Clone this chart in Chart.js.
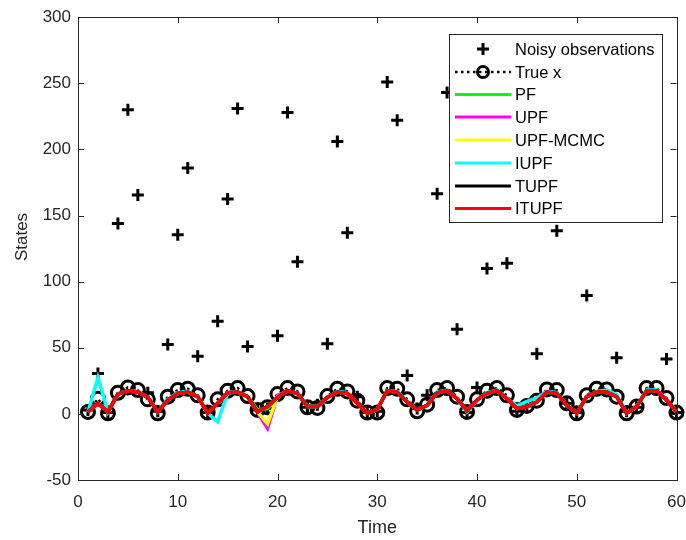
<!DOCTYPE html>
<html><head><meta charset="utf-8">
<script src="https://cdn.jsdelivr.net/npm/chart.js@4.4.0/dist/chart.umd.min.js"></script>
<style>html,body{margin:0;padding:0;background:#fff;}#wrap{width:686px;height:540px;}</style>
</head><body><div id="wrap"><canvas id="c" width="686" height="540"></canvas></div>
<script>
const time = [1,2,3,4,5,6,7,8,9,10,11,12,13,14,15,16,17,18,19,20,21,22,23,24,25,26,27,28,29,30,31,32,33,34,35,36,37,38,39,40,41,42,43,44,45,46,47,48,49,50,51,52,53,54,55,56,57,58,59,60];
const noisyObs = [3,30.5,1,144,230,165.5,16,2,52.5,135.5,186,43.5,1,70,162.5,231,51,3,4,59,228,115,5,7,53,206,137,13,1,2,251,222,29,4,14,166.5,243,64,1,20,110,200,114,2,6,45.5,180,138.5,8,1,89.5,195,185,42.5,2,5,210,276,41.5,1];
const trueX = [1.5,11.5,0.5,16,20,18,11,0.5,13,18,19,14,1,11,17.5,19.5,13.5,3,5,15,19.5,17,5,4.5,13.5,19,17,10,1,1,19.5,19,11,2,7,18,19.5,13,1.5,11,17.5,19.5,14,3,6,10,18.5,18,8,0.5,14,19,18.5,13,0.5,5.5,19.5,19.5,12,1];
const pf = [1.5,8,1.5,15,17.5,16.5,12.5,1.5,10.5,15.5,16.5,13,0.5,8,16,16.5,13,3,4,12.5,17.5,15.5,5.5,5.5,12.5,16.5,15.5,8,0.5,3.5,17.5,16.5,9,3,6.5,16,17.5,11.5,2.5,10.5,15.5,17.5,11.5,4,5.5,9,16.5,15.5,6.5,1,13,16.5,16.5,13,0.5,5.5,17.5,17.5,10.5,1.5];
const upf = [1.5,8,1.5,15,17,16.5,12.5,1.5,10.5,15.5,16.5,13,0.5,8,16,16.5,13,1,-11,14,17.5,15.5,5.5,5.5,12.5,16.5,15.5,8,0.5,3.5,17.5,16.5,9,3,6.5,16,17.5,11.5,2.5,10.5,15.5,17.5,11.5,4,5.5,9,16.5,15.5,6.5,0.5,13,16.5,16.5,13,0.5,5.5,17.5,17.5,10.5,1.5];
const upfMcmc = [1.5,8,1.5,15,17.5,16.5,12.5,1.5,10.5,15.5,16.5,13,0.5,8,16,16.5,13,1.5,-7.5,13,17.5,15.5,5.5,5.5,12.5,16.5,15.5,8,0.5,3.5,17.5,16.5,9,3,6.5,16,17.5,11.5,2.5,10.5,15.5,17.5,11.5,4,5.5,9,16.5,15.5,6.5,0.5,13,16.5,16.5,13,0.5,5.5,17.5,17.5,10.5,1.5];
const iupf = [1.5,27.5,1.5,15.5,17.5,17,12.5,1.5,11,16,17,13,0.5,-6,15.5,17,13,1.5,5.5,12.5,17.5,16,5.5,5.5,12.5,17,16,8,0.5,3.5,17.5,17,9,3,6.5,16.5,18,11.5,1.5,10.5,16,18,11.5,6,9.5,12,17,16,6.5,0.5,13,17,18,14.5,0.5,5.5,18,18,10.5,1.5];
const tupf = [1.5,8,1.5,15,17.5,16.5,12.5,1.5,10.5,15.5,16.5,13,0.5,8,16,16.5,13,1.5,5.5,12.5,17.5,15.5,5.5,5.5,12.5,16.5,15.5,8,0.5,3.5,17.5,16.5,9,3,6.5,16,17.5,11.5,2.5,10.5,15.5,17.5,11.5,4,5.5,9,16.5,15.5,6.5,0.5,13,16.5,16.5,13,0.5,5.5,17.5,17.5,10.5,1.5];
const itupf = [1.5,8,1.5,15,17.5,16.5,12.5,1.5,10.5,15.5,16.5,13,0.5,8,16,16.5,13,1.5,5.5,12.5,17.5,15.5,5.5,5.5,12.5,16.5,15.5,8,0.5,3.5,17.5,16.5,9,3,6.5,16,17.5,11.5,2.5,10.5,15.5,17.5,11.5,4,5.5,9,16.5,15.5,6.5,0.5,13,16.5,16.5,13,0.5,5.5,17.5,17.5,10.5,1.5];
const xTicks = [0,10,20,30,40,50,60];
const yTicks = [-50,0,50,100,150,200,250,300];
const seriesNames = ['Noisy observations','True x','PF','UPF','UPF-MCMC','IUPF','TUPF','ITUPF'];
const seriesColors = ['#000000','#000000','#00ff00','#ff00ff','#ffff00','#00ffff','#000000','#ff0000'];

const FONT = '"Liberation Sans", Arial, Helvetica, sans-serif';
const AX = '#262626';
const pts = arr => arr.map((v, i) => ({x: time[i], y: v}));

const lineSets = [pf, upf, upfMcmc, iupf, tupf, itupf].map((arr, k) => ({
  label: seriesNames[k + 2], data: pts(arr), borderColor: seriesColors[k + 2],
  borderWidth: 3.5, pointRadius: 0, fill: false, tension: 0, order: 5 - k
}));

const datasets = [
  {label: seriesNames[0], data: pts(noisyObs), showLine: false, pointStyle: 'cross',
   pointRadius: 6, pointBorderWidth: 3, borderColor: '#000', pointBorderColor: '#000', order: 7, clip: false},
  {label: seriesNames[1], data: pts(trueX), borderColor: '#000', borderWidth: 2.5, borderDash: [2.5, 3.5],
   pointStyle: 'circle', pointRadius: 6.5, pointBorderWidth: 3, pointBorderColor: '#000',
   pointBackgroundColor: 'rgba(0,0,0,0)', fill: false, order: 6, clip: false}
].concat(lineSets);

const framePlugin = {
  id: 'frame',
  afterDatasetsDraw(chart) {
    const {ctx, chartArea: a, scales: {x, y}} = chart;
    ctx.save();
    ctx.strokeStyle = AX; ctx.lineWidth = 1;
    ctx.beginPath();
    xTicks.forEach(v => {
      const px = Math.round(x.getPixelForValue(v)) + 0.5;
      ctx.moveTo(px, a.bottom); ctx.lineTo(px, a.bottom - 6);
      ctx.moveTo(px, a.top); ctx.lineTo(px, a.top + 6);
    });
    yTicks.forEach(v => {
      const py = Math.round(y.getPixelForValue(v)) + 0.5;
      ctx.moveTo(a.left, py); ctx.lineTo(a.left + 6, py);
      ctx.moveTo(a.right, py); ctx.lineTo(a.right - 6, py);
    });
    ctx.stroke();
    ctx.strokeRect(Math.round(a.left) + 0.5, Math.round(a.top) + 0.5, Math.round(a.right - a.left), Math.round(a.bottom - a.top));
    ctx.fillStyle = AX;
    ctx.font = '17px ' + FONT;
    ctx.translate(22, 237);
    ctx.rotate(-Math.PI / 2);
    ctx.textAlign = 'center'; ctx.textBaseline = 'middle';
    ctx.fillText('States', 0, 0);
    ctx.restore();
  },
  afterDraw(chart) {
    const {ctx} = chart;
    ctx.save();
    const bx = 449, by = 34, bw = 213, bh = 188;
    ctx.fillStyle = '#fff';
    ctx.fillRect(bx, by, bw, bh);
    ctx.strokeStyle = AX; ctx.lineWidth = 1;
    ctx.strokeRect(bx + 0.5, by + 0.5, bw, bh);
    const rowY = [49, 72, 94.5, 117, 140, 163, 186, 208.5];
    const x0 = 455, x1 = 511, xm = 483, tx = 515;
    ctx.font = '16.5px ' + FONT;
    ctx.textBaseline = 'middle'; ctx.textAlign = 'left';
    seriesNames.forEach((name, i) => {
      const yy = rowY[i];
      ctx.strokeStyle = seriesColors[i];
      if (i === 0) {
        ctx.lineWidth = 3;
        ctx.beginPath();
        ctx.moveTo(xm - 6, yy); ctx.lineTo(xm + 6, yy);
        ctx.moveTo(xm, yy - 6); ctx.lineTo(xm, yy + 6);
        ctx.stroke();
      } else if (i === 1) {
        ctx.lineWidth = 2.5;
        ctx.setLineDash([2.5, 3.5]);
        ctx.beginPath(); ctx.moveTo(x0, yy); ctx.lineTo(x1, yy); ctx.stroke();
        ctx.setLineDash([]);
        ctx.lineWidth = 3;
        ctx.beginPath(); ctx.arc(xm, yy, 5.5, 0, Math.PI * 2); ctx.stroke();
      } else {
        ctx.lineWidth = 3;
        ctx.beginPath(); ctx.moveTo(x0, yy); ctx.lineTo(x1, yy); ctx.stroke();
      }
      ctx.fillStyle = '#000';
      ctx.fillText(name, tx, yy + 1);
    });
    ctx.restore();
  }
};

new Chart(document.getElementById('c'), {
  type: 'line',
  data: {datasets},
  options: {
    responsive: false, animation: false, devicePixelRatio: 1,
    layout: {padding: {top: 16, right: 6, left: 0, bottom: 0}},
    plugins: {legend: {display: false}, tooltip: {enabled: false}},
    scales: {
      x: {type: 'linear', min: 0, max: 60,
        afterBuildTicks: s => { s.ticks = xTicks.map(v => ({value: v})); },
        afterFit: s => { s.height = 60; s.paddingLeft = 0; s.paddingRight = 0; },
        grid: {drawOnChartArea: false, drawTicks: false}, border: {display: false},
        ticks: {font: {family: FONT, size: 17}, color: AX, padding: 12, maxRotation: 0, autoSkip: false},
        title: {display: true, text: 'Time', font: {family: FONT, size: 18}, color: AX, padding: {top: 0, bottom: 1}}
      },
      y: {type: 'linear', min: -50, max: 300,
        afterBuildTicks: s => { s.ticks = yTicks.map(v => ({value: v})); },
        afterFit: s => { s.width = 78; },
        grid: {drawOnChartArea: false, drawTicks: false}, border: {display: false},
        ticks: {font: {family: FONT, size: 17}, color: AX, padding: 7, autoSkip: false}
      }
    }
  },
  plugins: [framePlugin]
});
</script></body></html>
